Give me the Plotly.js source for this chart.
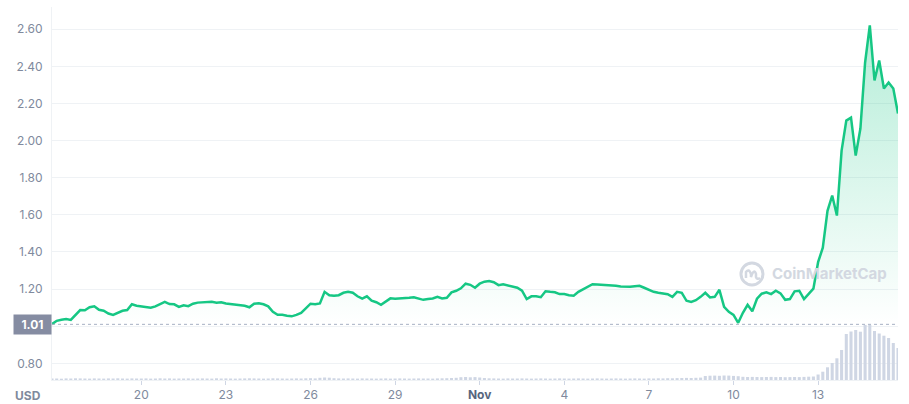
<!DOCTYPE html>
<html>
<head>
<meta charset="utf-8">
<script src="https://cdn.plot.ly/plotly-3.0.1.min.js"></script>
<style>
  html, body { margin: 0; padding: 0; background: #fff; }
  #chart { width: 909px; height: 404px; }
</style>
</head>
<body>
<div id="chart"></div>
<script>
"use strict";

// one sample every 4 hours, from Oct 16 20:00 to Nov 15 20:00
const START = "2021-10-16T20:00:00Z";
const STEP_HOURS = 4;

// price in USD
const prices = [
    1.011, 1.029, 1.035, 1.038, 1.034, 1.061, 1.087, 1.086, 1.102, 1.107,
    1.088, 1.083, 1.068, 1.061, 1.072, 1.083, 1.087, 1.118, 1.110, 1.107,
    1.104, 1.099, 1.107, 1.119, 1.131, 1.119, 1.118, 1.104, 1.113, 1.108,
    1.121, 1.127, 1.129, 1.131, 1.131, 1.126, 1.129, 1.122, 1.119, 1.117,
    1.114, 1.110, 1.102, 1.121, 1.124, 1.118, 1.107, 1.077, 1.061, 1.061,
    1.056, 1.053, 1.061, 1.072, 1.096, 1.121, 1.118, 1.123, 1.185, 1.167,
    1.164, 1.167, 1.180, 1.185, 1.180, 1.161, 1.148, 1.161, 1.137, 1.129,
    1.115, 1.134, 1.150, 1.148, 1.149, 1.149, 1.153, 1.156, 1.148, 1.142,
    1.146, 1.149, 1.158, 1.149, 1.153, 1.182, 1.191, 1.204, 1.229, 1.223,
    1.207, 1.229, 1.240, 1.243, 1.237, 1.221, 1.226, 1.221, 1.215, 1.207,
    1.191, 1.146, 1.161, 1.161, 1.156, 1.188, 1.185, 1.183, 1.173, 1.173,
    1.167, 1.164, 1.185, 1.199, 1.215, 1.226, 1.224, 1.223, 1.222, 1.223,
    1.218, 1.214, 1.212, 1.212, 1.215, 1.218, 1.207, 1.196, 1.185, 1.180,
    1.175, 1.172, 1.158, 1.185, 1.180, 1.137, 1.131, 1.140, 1.158, 1.180,
    1.155, 1.158, 1.196, 1.104, 1.077, 1.061, 1.018, 1.072, 1.115, 1.080,
    1.148, 1.175, 1.182, 1.173, 1.191, 1.177, 1.142, 1.146, 1.188, 1.191,
    1.146, 1.173, 1.202, 1.345, 1.423, 1.622, 1.704, 1.596, 1.946, 2.108,
    2.124, 1.919, 2.065, 2.421, 2.621, 2.324, 2.432, 2.281, 2.313, 2.281,
    2.146
];

// volume, millions USD (approx.)
const volumes = [
    14, 15, 13, 16, 15, 17, 16, 15, 14, 16,
    15, 14, 16, 15, 17, 15, 14, 16, 15, 15,
    16, 14, 15, 17, 15, 16, 14, 15, 15, 16,
    14, 15, 16, 15, 14, 17, 15, 16, 15, 14,
    15, 16, 17, 16, 15, 14, 15, 17, 16, 15,
    14, 15, 16, 15, 17, 18, 16, 22, 25, 23,
    18, 16, 15, 16, 15, 14, 16, 15, 15, 14,
    15, 16, 14, 15, 16, 15, 14, 15, 16, 15,
    15, 14, 16, 17, 18, 20, 22, 28, 30, 27,
    29, 25, 20, 17, 16, 15, 14, 16, 15, 15,
    16, 15, 14, 15, 16, 15, 14, 15, 16, 15,
    14, 15, 16, 15, 14, 15, 16, 15, 14, 15,
    16, 15, 14, 15, 16, 15, 14, 16, 15, 17,
    16, 18, 17, 19, 20, 21, 20, 22, 24, 40,
    43, 44, 42, 45, 44, 41, 38, 32, 30, 31,
    30, 29, 30, 31, 29, 30, 28, 29, 30, 29,
    31, 33, 35, 55, 83, 127, 170, 217, 300, 460,
    485, 500, 483, 550, 550, 490, 465, 443, 420, 370,
    320
];

const refPrice = 1.01;

const tickDates = ["2021-10-20", "2021-10-23", "2021-10-26", "2021-10-29", "2021-11-01",
                   "2021-11-04", "2021-11-07", "2021-11-10", "2021-11-13"];
const tickLabels = ["20", "23", "26", "29", "<b style='color:#58667e'>Nov</b>", "4", "7", "10", "13"];

const priceTicks = [0.8, 1.0, 1.2, 1.4, 1.6, 1.8, 2.0, 2.2, 2.4, 2.6];
const priceLabels = ["0.80", "", "1.20", "1.40", "1.60", "1.80", "2.00", "2.20", "2.40", "2.60"];

const t0 = Date.parse(START);
const times = prices.map((_, i) =>
    new Date(t0 + i * STEP_HOURS * 3600e3).toISOString().slice(0, 19));
const baseline = times.map(() => refPrice);

const GREEN = "#16c784";
const GREY = "#808a9d";
const FONT = "Inter, 'Noto Sans', sans-serif";

const traces = [
    {
        type: "bar", x: times, y: volumes, yaxis: "y2",
        marker: { color: "#cfd6e4", line: { width: 0 } },
        hoverinfo: "skip"
    },
    {
        type: "scatter", mode: "lines", x: times, y: baseline,
        line: { width: 0, color: "rgba(0,0,0,0)" }, hoverinfo: "skip"
    },
    {
        type: "scatter", mode: "lines", x: times, y: prices,
        line: { color: GREEN, width: 2.5 },
        fill: "tonexty",
        fillgradient: {
            type: "vertical",
            colorscale: [[0, "rgba(22,199,132,0)"], [1, "rgba(22,199,132,0.32)"]]
        }
    }
];

const layout = {
    width: 909,
    height: 404,
    margin: { l: 52, r: 11, t: 7, b: 24 },
    paper_bgcolor: "#fff",
    plot_bgcolor: "#fff",
    showlegend: false,
    bargap: 0.35,
    font: { family: FONT, size: 12, color: GREY },
    xaxis: {
        type: "date",
        range: [times[0], times[times.length - 1]],
        tickvals: tickDates,
        ticktext: tickLabels,
        ticks: "outside", ticklen: 4, tickcolor: "#cfd6e4",
        showgrid: false, zeroline: false,
        showline: true, linecolor: "#eff2f5",
        tickfont: { size: 12, color: GREY }
    },
    yaxis: {
        range: [0.71, 2.72],
        tickvals: priceTicks,
        ticktext: priceLabels,
        ticks: "",
        ticklabelstandoff: 6,
        gridcolor: "#eff2f5",
        zeroline: false,
        showline: true, linecolor: "#eff2f5",
        tickfont: { size: 12, color: GREY }
    },
    yaxis2: {
        overlaying: "y",
        range: [0, 3730],
        visible: false
    },
    shapes: [
        {
            type: "line", xref: "paper", x0: 0, x1: 1, yref: "y", y0: refPrice, y1: refPrice,
            line: { color: "#a6b0c3", width: 1, dash: "dot" }
        },
        // watermark logo ring
        {
            type: "circle", xref: "paper", yref: "paper",
            xsizemode: "pixel", ysizemode: "pixel",
            xanchor: 0.8274, yanchor: 0.2842,
            x0: -11, x1: 11, y0: -11, y1: 11,
            line: { color: "#d3d8e1", width: 3 }
        },
        {
            type: "path", xref: "paper", yref: "paper",
            xsizemode: "pixel", ysizemode: "pixel",
            xanchor: 0.8274, yanchor: 0.2842,
            path: "M -6 -4 L -6 2 Q -3 6 -1 0 L -1 -3 Q 2 6 4 0 L 4 -3 Q 5 -6 8 -4",
            line: { color: "#d3d8e1", width: 2.5 }
        }
    ],
    annotations: [
        {
            xref: "paper", x: 0, xanchor: "right", yref: "y", y: refPrice, yanchor: "middle",
            text: "<b>1.01</b>", showarrow: false,
            bgcolor: "#858ca2", width: 31, height: 13, borderpad: 3,
            font: { color: "#fff", size: 12, family: FONT }
        },
        {
            xref: "paper", x: 0, xanchor: "right", xshift: -9,
            yref: "paper", y: 0, yanchor: "top", yshift: -6,
            text: "<b>USD</b>", showarrow: false,
            font: { color: GREY, size: 12, family: FONT }
        },
        {
            xref: "paper", x: 0.8487, xanchor: "left",
            yref: "paper", y: 0.2842, yanchor: "middle",
            text: "<b>CoinMarketCap</b>", showarrow: false,
            font: { color: "#d3d8e1", size: 15, family: FONT }
        }
    ]
};

Plotly.newPlot("chart", traces, layout, { displayModeBar: false, staticPlot: true });
</script>
</body>
</html>
